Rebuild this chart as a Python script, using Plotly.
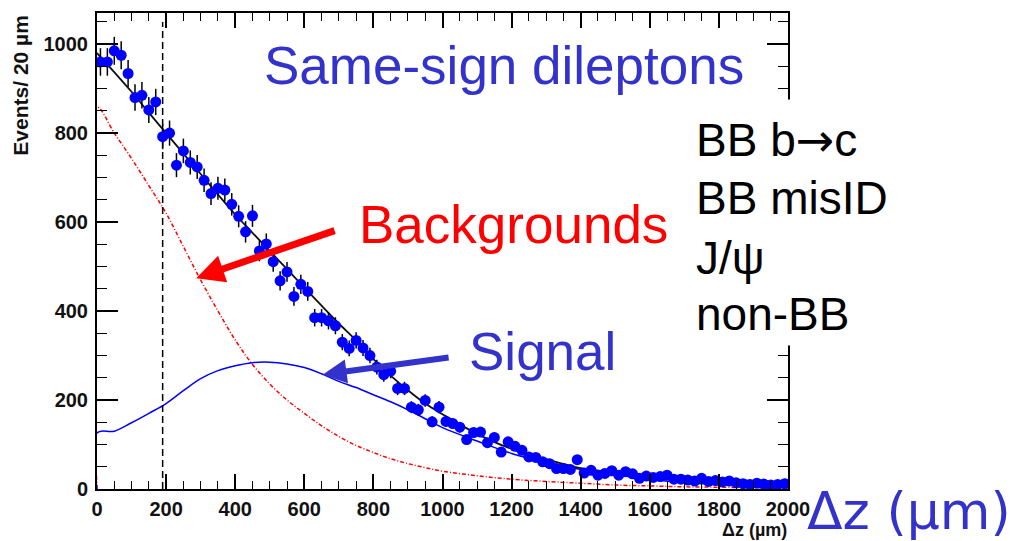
import plotly.graph_objects as go

# ---- measured same-sign dilepton Δz distribution (20 µm bins) ----
bin_width = 20
counts = [
    960, 960, 985, 975, 934, 880, 885, 852, 870, 792,
    800, 728, 760, 734, 724, 694, 664, 676, 672, 640,
    613, 578, 614, 535, 551, 511, 468, 488, 433, 460,
    444, 385, 385, 378, 367, 330, 316, 334, 317, 300,
    274, 257, 265, 226, 226, 184, 178, 199, 151, 184,
    152, 147, 139, 111, 127, 128, 104, 116, 83, 106,
    96, 87, 72, 71, 61, 57, 46, 46, 44, 66,
    36, 42, 31, 35, 41, 31, 39, 34, 24, 29,
    26, 28, 31, 22, 22, 20, 18, 24, 17, 19,
    16, 18, 14, 12, 10, 13, 11, 9, 10, 12,
]
bin_centres = [bin_width / 2 + bin_width * i for i in range(len(counts))]
count_errors = [c ** 0.5 for c in counts]

# ---- fit components ----
curve_dz = [0, 50, 100, 150, 200, 250, 300, 350, 400, 450, 500, 550, 600, 650,
            700, 750, 800, 850, 900, 950, 1000, 1100, 1200, 1300, 1400, 1500,
            1600, 1700, 1800, 1900, 2000]
signal_fit = [126, 130, 149, 170, 192, 221, 248, 266, 277, 284, 285, 281, 273, 259,
              242, 228, 212, 196, 178, 158, 138, 108, 80, 60, 44, 32,
              22, 14, 10, 7, 5]
background_fit = [858, 800, 743, 682, 620, 545, 470, 400, 335, 280, 236, 200, 170, 142,
                  118, 98, 82, 68, 57, 48, 40, 30, 22, 17, 13, 9,
                  7, 5, 4, 3, 2]
total_fit = [980, 937, 893, 846, 800, 754, 708, 662, 617, 576, 535, 494, 453, 412,
             372, 334, 292, 255, 222, 192, 168, 124, 90, 67, 47, 37,
             30, 25, 21, 18, 15]

# selection cut on Δz
dz_cut = 190
cut_top = 1050

BLUE_TEXT = "#3333cc"
FONT = "Liberation Sans, Arial, Helvetica, sans-serif"

fig = go.Figure()

# background (dash-dot red)
fig.add_trace(go.Scatter(
    x=[curve_dz[0]] + curve_dz, y=[0] + background_fit, mode="lines",
    line=dict(color="#ff0000", width=1.5, dash="4px,2px,1px,2px", shape="spline"),
    hoverinfo="skip", showlegend=False))

# signal (blue)
fig.add_trace(go.Scatter(
    x=[curve_dz[0]] + curve_dz, y=[0] + signal_fit, mode="lines",
    line=dict(color="#0000ff", width=1.5, shape="spline"),
    hoverinfo="skip", showlegend=False))

# cut line
fig.add_trace(go.Scatter(
    x=[dz_cut, dz_cut], y=[0, cut_top], mode="lines",
    line=dict(color="black", width=1.5, dash="7px,4px"),
    hoverinfo="skip", showlegend=False))

# total fit (black)
fig.add_trace(go.Scatter(
    x=curve_dz, y=total_fit, mode="lines",
    line=dict(color="#111111", width=1.8, shape="spline"),
    hoverinfo="skip", showlegend=False))

# data
fig.add_trace(go.Scatter(
    x=bin_centres, y=counts, mode="markers",
    marker=dict(color="#0000ff", size=11),
    error_y=dict(type="data", array=count_errors, color="black", thickness=1.5, width=0),
    showlegend=False))

axis_common = dict(
    showline=True, linewidth=2, linecolor="black", mirror="allticks",
    ticks="inside", tickcolor="black", tickwidth=1.5,
    showgrid=False, zeroline=False,
    tickfont=dict(family=FONT, size=20, color="#111111", weight="bold"),
)

fig.update_xaxes(
    range=[0, 2000], tick0=0, dtick=200, ticklen=15,
    minor=dict(ticks="inside", dtick=50, ticklen=8, tickcolor="black", tickwidth=1.2),
    ticklabelstandoff=1,
    **axis_common)
fig.update_yaxes(
    range=[0, 1070], tick0=0, dtick=200, ticklen=21,
    minor=dict(ticks="inside", dtick=50, ticklen=10, tickcolor="black", tickwidth=1.2),
    ticklabelstandoff=3,
    **axis_common)

annotations = [
    # axis titles
    dict(text="Events/ 20 µm", xref="paper", yref="paper", x=-0.111, y=0.848,
         xanchor="center", yanchor="middle", textangle=-90, showarrow=False,
         font=dict(family=FONT, size=21, color="#111111", weight="bold")),
    dict(text="Δz (µm)", xref="paper", yref="paper", x=1.0, y=-0.1085,
         xanchor="right", yanchor="bottom", showarrow=False, borderpad=0,
         font=dict(family=FONT, size=18, color="#111111", weight="bold")),
    # headline and labels
    dict(text="Same-sign dileptons", xref="x", yref="y", x=1177, y=951,
         xanchor="center", yanchor="middle", showarrow=False, bgcolor="white",
         font=dict(family=FONT, size=53, color=BLUE_TEXT)),
    dict(text="Backgrounds", xref="x", yref="y", x=752, y=594,
         xanchor="left", yanchor="middle", showarrow=False, bgcolor="white",
         font=dict(family=FONT, size=53, color="#ff0000")),
    dict(text="Signal", xref="x", yref="y", x=1070, y=309,
         xanchor="left", yanchor="middle", showarrow=False, bgcolor="white",
         font=dict(family=FONT, size=53, color=BLUE_TEXT)),
    dict(text="Δz (µm)", xref="paper", yref="paper", x=1.024, y=-0.047,
         xanchor="left", yanchor="middle", showarrow=False,
         font=dict(family="DejaVu Sans, sans-serif", size=52, color=BLUE_TEXT)),
    # arrows
    dict(text="", xref="x", yref="y", axref="x", ayref="y",
         x=287, y=474, ax=692, ay=582, showarrow=True,
         arrowhead=2, arrowsize=0.8, arrowwidth=7, arrowcolor="#ff0000"),
    dict(text="", xref="x", yref="y", axref="x", ayref="y",
         x=653, y=257, ax=1022, ay=296, showarrow=True,
         arrowhead=2, arrowsize=0.8, arrowwidth=6, arrowcolor=BLUE_TEXT),
    # white panel behind the background source list
    dict(text="", xref="paper", yref="paper", x=1.0, y=0.559,
         xanchor="center", yanchor="middle", width=222, height=245,
         showarrow=False, bgcolor="white", borderpad=0),
]

# background source list
ARROW_SPAN = '<span style="font-family:DejaVu Sans">→</span>'
source_lines = ["BB b" + ARROW_SPAN + "c", "BB misID", "J/ψ", "non-BB"]
source_rows_y = [785, 655, 520, 394]
for label, yv in zip(source_lines, source_rows_y):
    annotations.append(dict(text=label, xref="x", yref="y", x=1729, y=yv,
                            xanchor="left", yanchor="middle", showarrow=False,
                            font=dict(family=FONT, size=46, color="black")))

fig.update_layout(
    width=1022, height=541,
    margin=dict(l=97, r=234, t=11, b=52),
    paper_bgcolor="white", plot_bgcolor="white",
    annotations=annotations,
    showlegend=False,
)

fig.write_html("out.html")
